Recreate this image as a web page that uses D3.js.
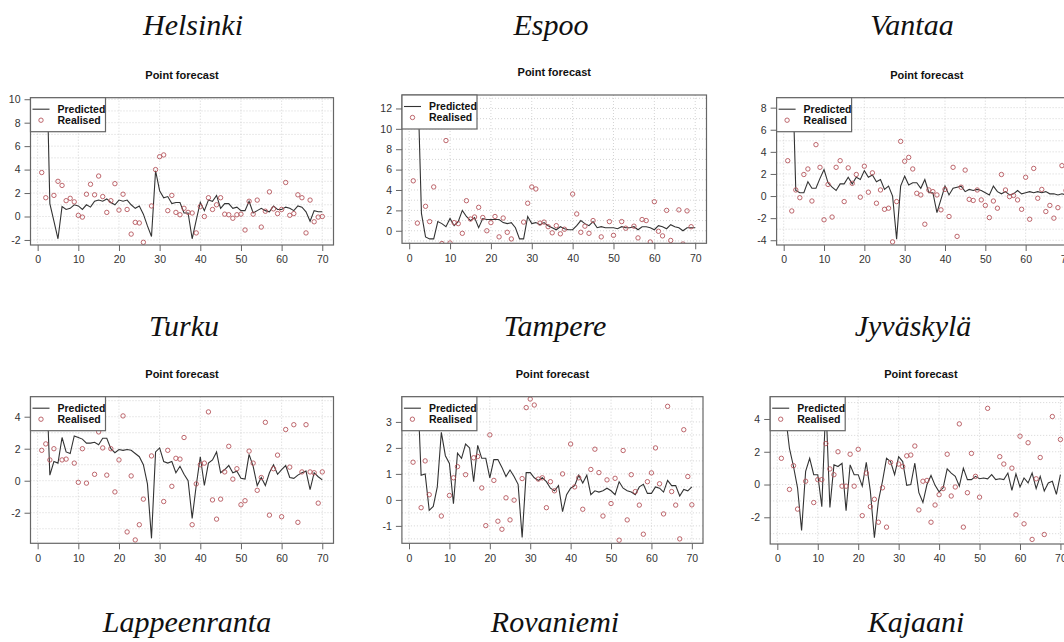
<!DOCTYPE html>
<html><head><meta charset="utf-8">
<script src="https://cdn.jsdelivr.net/npm/d3@7"></script>
<style>
html,body{margin:0;padding:0;background:#fff;}
svg{display:block;}
</style></head>
<body>
<svg id="chart" width="1064" height="642"></svg>
<script>
// ---------------- data ----------------
const cityNames = ["Helsinki","Espoo","Vantaa","Turku","Tampere","Jyväskylä","Lappeenranta","Rovaniemi","Kajaani"];
const panelTitle = "Point forecast";
const legendLabels = ["Predicted","Realised"];
const xTicks = [0,10,20,30,40,50,60,70];

const helsinkiPred = [12,16.5,1.1,-0.4,-1.9,0.85,0.6,0.7,1.0,0.9, 0.6,1.0,0.8,1.3,1.4,1.3,1.5,1.2,1.0,1.4, 1.3,1.4,1.0,0.7,0.9,0.2,-0.8,-1.7,3.9,2.2, 1.6,1.7,1.1,1.2,1.2,0.3,0.3,-1.9,-0.3,1.2, 0.5,1.4,1.3,1.8,0.7,1.1,1.1,0.7,0.8,0.5, 0.5,1.3,0.3,0.5,0.7,0.5,0.4,0.9,0.6,0.6, 0.8,0.7,0.5,0.9,0.8,0.4,-0.4,0.5,0.4,0.4];
const helsinkiReal = [3.75,1.6,null,1.8,3.0,2.65,1.35,1.55,1.25,0.1, -0.05,1.9,2.75,1.85,3.45,1.7,0.35,1.35,2.8,0.55, 1.9,0.6,-1.5,-0.5,-0.55,-2.2,null,0.9,4.0,5.1, 5.25,0.5,1.8,0.35,0.15,0.7,0.35,0.3,-1.4,0.85, 0.0,1.6,0.6,1.0,1.6,0.2,0.15,-0.15,0.15,0.2, -1.15,1.3,0.2,1.4,-0.9,0.45,2.1,0.65,0.25,0.6, 2.9,0.1,0.25,1.85,1.6,-1.4,1.4,-0.45,-0.05,0.0];
const helsinkiYTicks = [-2,0,2,4,6,8,10];

const espooPred = [14,16,1.7,-0.6,-0.8,-0.8,0.9,0.7,0.4,1.2, 0.5,0.9,2.0,1.4,1.0,1.3,0.3,1.2,1.1,1.1, 1.1,1.1,0.8,0.7,0.8,0.3,-0.8,-0.8,1.4,0.7, 0.8,0.6,0.8,0.5,0.3,0.1,0.4,0.2,0.1,0.1, 0.5,1.0,0.7,0.5,0.9,0.3,0.4,0.3,0.3,0.3, 0.2,0.4,0.3,0.3,0.4,0.1,0.4,0.4,0.3,0.1, 0.5,0.4,0.2,0.6,0.4,0.3,0.0,0.3,0.3,0.3];
const espooReal = [4.9,0.75,null,2.4,0.9,4.3,null,-1.25,8.85,-1.2, 0.8,0.7,-0.25,2.95,1.15,1.35,2.3,1.3,0.0,0.8, 1.4,-0.6,1.25,-0.15,-0.8,null,null,0.85,2.7,4.3, 4.1,0.75,0.85,0.4,-0.2,0.5,-0.3,0.15,null,3.6, 1.65,-0.15,0.45,-0.25,1.0,null,-0.6,null,0.9,-0.45, null,0.9,0.25,null,0.45,-0.7,1.1,1.0,-1.1,2.85, -0.05,-0.5,2.0,-0.95,null,2.05,-1.3,1.95,0.4,null];
const espooYTicks = [0,2,4,6,8,10,12];

const vantaaPred = [10,13.5,0.5,0.3,0.3,1.3,0.7,0.7,1.6,2.4, 1.2,0.8,0.5,1.1,1.1,1.7,1.1,1.7,1.5,2.3, 1.7,1.9,1.3,1.5,0.6,0.9,0.0,-3.9,0.9,1.8, 1.0,1.2,1.2,0.7,1.5,0.3,0.3,-1.5,-0.3,0.9, 0.1,0.7,0.8,0.9,0.4,0.6,0.5,0.6,0.5,0.3, 0.1,0.9,0.4,0.2,0.4,0.1,0.2,0.5,0.2,0.3, 0.4,0.3,0.4,0.3,0.4,0.2,0.2,0.1,0.2,0.1];
const vantaaReal = [3.2,-1.35,0.55,-0.15,1.95,2.45,-0.45,4.65,2.6,-2.15, 1.05,-1.9,2.6,3.2,-0.5,2.55,1.15,1.95,-0.1,2.7, 0.35,2.1,-0.65,0.55,-1.2,-1.1,-4.15,-0.5,4.95,3.15, 3.5,2.45,0.25,0.1,-2.55,0.55,0.4,0.1,-1.25,0.6, -1.85,2.6,-3.65,0.8,2.35,-0.3,-0.4,0.55,-0.35,-0.85, -1.95,-0.45,-1.1,1.95,0.55,-0.05,0.05,-0.35,-1.2,1.7, -2.1,2.5,-0.2,0.6,-1.4,-0.85,-2.0,-1.05,2.75,0.5];
const vantaaYTicks = [-4,-2,0,2,4,6,8];

const turkuPred = [6,7.4,0.35,1.2,1.1,2.7,1.8,1.7,2.8,2.7, 2.6,2.35,2.35,2.4,2.25,2.65,2.65,2.0,1.75,1.95, 1.9,1.95,1.9,1.7,1.5,1.0,-0.2,-3.6,1.8,2.05, 1.2,1.1,1.2,0.5,0.9,0.4,0.0,-2.35,-0.3,1.5, -0.3,1.1,1.3,1.8,0.5,0.7,0.95,0.5,0.6,0.15, 0.1,1.65,0.9,-0.3,0.2,-0.3,0.5,1.0,0.4,0.7, 0.95,0.2,0.15,0.35,0.5,0.6,-0.55,0.5,0.25,0.05];
const turkuReal = [1.9,2.3,1.3,2.0,null,1.3,1.35,null,1.1,-0.1, 2.0,-0.15,null,0.4,3.05,2.05,0.35,2.0,-0.7,1.3, 4.05,-3.2,0.3,-3.7,-2.75,-1.15,null,1.55,null,null, -1.3,1.9,-0.35,1.4,1.35,2.7,null,-2.75,-0.2,1.0, 1.1,4.3,-1.2,-2.4,-1.15,0.55,2.15,0.1,0.75,-1.5, -1.25,1.85,1.1,-0.6,0.2,3.65,-2.15,0.75,1.6,-2.25, 3.2,0.85,3.5,-2.6,0.55,3.5,0.55,0.5,-1.4,0.55];
const turkuYTicks = [-2,0,2,4];

const tamperePred = [4,4.8,0.95,1.0,-0.4,-0.25,0.5,2.6,1.7,1.4, -0.15,1.8,1.6,2.15,2.0,0.7,2.1,1.6,1.6,0.85, 1.55,1.55,1.25,0.9,1.15,0.9,0.6,-1.45,1.05,1.05, 0.85,0.75,0.85,0.7,0.45,0.35,0.55,-0.45,0.2,0.45, 0.55,0.95,0.65,0.95,0.2,0.35,0.3,0.35,0.45,0.35, 0.2,0.7,0.45,0.35,0.3,0.2,0.5,0.6,0.25,0.25, 0.5,0.45,0.3,0.75,0.55,0.55,0.15,0.4,0.35,0.5];
const tampereReal = [1.45,null,-0.3,1.5,0.2,null,null,-0.62,null,0.17, 0.85,1.28,null,0.97,null,1.62,1.67,0.46,-0.99,2.5, 0.75,-0.82,-1.13,0.08,-0.77,-0.01,null,0.82,3.55,3.88, 3.65,0.8,0.85,-0.3,0.7,0.35,null,1.0,null,2.15, 0.5,0.85,-0.36,null,1.17,1.95,1.05,-0.62,0.77,-0.14, 0.83,-1.55,1.9,-0.77,0.97,0.32,-0.2,-1.32,0.7,1.04, 2.0,0.62,-0.54,3.6,0.32,-0.2,-1.5,2.7,0.9,-0.19];
const tampereYTicks = [-1,0,1,2,3];

const jyvaskylaPred = [4.5,4.3,2.2,1.1,-0.2,-2.8,0.8,1.6,0.6,0.6, -1.35,5.0,-1.4,1.2,1.1,1.3,-1.6,1.2,0.6,0.6, -0.1,1.35,-0.4,-3.25,-1.0,0.2,1.6,1.4,0.6,1.7, 1.4,-0.05,0.0,1.3,-0.5,-1.1,0.0,0.55,-0.05,-0.45, -0.2,0.95,0.7,0.5,-0.1,1.0,0.3,0.3,0.5,0.35, 0.4,0.35,0.6,0.3,0.35,0.3,0.7,-0.35,0.65,-0.15, 0.4,0.1,0.7,-0.25,0.5,-0.4,0.1,0.2,-0.6,0.6];
const jyvaskylaReal = [1.6,null,-0.3,1.15,-1.5,null,0.2,null,-1.1,0.3, 0.3,2.5,0.95,0.6,2.0,-0.1,-0.1,1.85,-0.1,2.15, -1.9,0.7,-1.35,-0.9,-2.3,-0.2,-2.6,1.35,null,1.25, 1.1,1.75,1.8,2.35,-1.55,0.2,0.25,-2.3,-1.25,-0.62, -0.25,1.85,-0.7,-0.15,3.7,-2.6,-0.5,1.9,0.5,-0.77, null,4.65,null,null,1.7,1.25,null,1.0,-1.85,2.95, -2.4,2.55,-3.35,0.35,1.65,-3.05,null,4.15,null,2.75];
const jyvaskylaYTicks = [-2,0,2,4];

// ---------------- layout (positions only) ----------------
const panels = [
  {city:0, pred:helsinkiPred, real:helsinkiReal, yTicks:helsinkiYTicks, left:30.5, right:333.5, top:97.7, bottom:245, ydom:[-2.43,10.13]},
  {city:1, pred:espooPred, real:espooReal, yTicks:espooYTicks, left:402, right:706.5, top:95, bottom:243.3, ydom:[-1.23,13.32]},
  {city:2, pred:vantaaPred, real:vantaaReal, yTicks:vantaaYTicks, left:776.6, right:1077.1, top:97.7, bottom:245, ydom:[-4.43,8.9]},
  {city:3, pred:turkuPred, real:turkuReal, yTicks:turkuYTicks, left:30.5, right:333.5, top:396.7, bottom:543.3, ydom:[-3.91,5.25]},
  {city:4, pred:tamperePred, real:tampereReal, yTicks:tampereYTicks, left:401.9, right:703, top:396.7, bottom:543.3, ydom:[-1.67,3.97]},
  {city:5, pred:jyvaskylaPred, real:jyvaskylaReal, yTicks:jyvaskylaYTicks, left:770.2, right:1071.6, top:396.7, bottom:544, ydom:[-3.63,5.36]}
];
const cityPos = [
  {x:193,y:35},{x:551,y:35},{x:912,y:35},
  {x:184,y:336},{x:555,y:336},{x:913,y:336},
  {x:187,y:632},{x:555,y:632},{x:916,y:632}
];

const svg = d3.select("#chart");
const xDom = [-1.76, 72.76];
const greyAxis = "#666";
const lineCol = "#333";
const ptCol = "#b5565c";
const gridCol = "#cfcfcf";

// City titles
svg.selectAll("text.city").data(cityPos).enter().append("text")
  .attr("class","city")
  .attr("x", d=>d.x).attr("y", d=>d.y)
  .attr("text-anchor","middle")
  .style("font-family","'Liberation Serif','DejaVu Serif',serif")
  .style("font-style","italic")
  .style("font-size","30px")
  .attr("fill","#111")
  .text((d,i)=>cityNames[i]);

panels.forEach((p,pi)=>{
  const x = d3.scaleLinear().domain(xDom).range([p.left,p.right]);
  const y = d3.scaleLinear().domain(p.ydom).range([p.bottom,p.top]);
  const g = svg.append("g");
  const clipId = "clip"+pi;
  svg.append("defs").append("clipPath").attr("id",clipId)
    .append("rect").attr("x",p.left).attr("y",p.top)
    .attr("width",p.right-p.left).attr("height",p.bottom-p.top);

  // grid
  const step = p.yTicks[1]-p.yTicks[0];
  const hGrid = d3.range(Math.ceil(p.ydom[0]/(step/2))*(step/2), p.ydom[1], step/2);
  const grid = g.append("g").attr("clip-path",`url(#${clipId})`);
  grid.selectAll("line.h").data(hGrid).enter().append("line")
    .attr("x1",p.left).attr("x2",p.right)
    .attr("y1",d=>y(d)).attr("y2",d=>y(d))
    .attr("stroke",gridCol).attr("stroke-width",0.9).attr("stroke-dasharray","1,2");
  grid.selectAll("line.v").data(xTicks).enter().append("line")
    .attr("y1",p.top).attr("y2",p.bottom)
    .attr("x1",d=>x(d)).attr("x2",d=>x(d))
    .attr("stroke",gridCol).attr("stroke-width",0.9).attr("stroke-dasharray","1,2");

  // data
  const plot = g.append("g").attr("clip-path",`url(#${clipId})`);
  const line = d3.line().x((d,i)=>x(i+1)).y(d=>y(d));
  plot.append("path").datum(p.pred).attr("d",line)
    .attr("fill","none").attr("stroke",lineCol).attr("stroke-width",1.1);
  plot.selectAll("circle").data(p.real.map((v,i)=>({t:i+1,v})).filter(d=>d.v!==null))
    .enter().append("circle")
    .attr("cx",d=>x(d.t)).attr("cy",d=>y(d.v)).attr("r",2.2)
    .attr("fill","none").attr("stroke",ptCol).attr("stroke-width",0.9);

  // box
  g.append("rect").attr("x",p.left).attr("y",p.top)
    .attr("width",p.right-p.left).attr("height",p.bottom-p.top)
    .attr("fill","none").attr("stroke",greyAxis).attr("stroke-width",1.2);

  // axes
  const xa = g.append("g").attr("transform",`translate(0,${p.bottom})`)
    .call(d3.axisBottom(x).tickValues(xTicks).tickSize(6).tickSizeOuter(0).tickPadding(5));
  const ya = g.append("g").attr("transform",`translate(${p.left},0)`)
    .call(d3.axisLeft(y).tickValues(p.yTicks).tickSize(6).tickSizeOuter(0).tickPadding(4).tickFormat(d3.format("d")));
  [xa,ya].forEach(a=>{
    a.select(".domain").remove();
    a.selectAll("line").attr("stroke",greyAxis);
    a.selectAll("text").attr("fill","#333")
      .style("font-family","'Liberation Sans',Arial,sans-serif").style("font-size","10.5px");
  });
  xa.selectAll("text").text(d=>d);
  ya.selectAll("text").text(d=>d<0?"-"+Math.abs(d):d);
  // axis lines spanning ticks
  g.append("line").attr("x1",x(xTicks[0])).attr("x2",x(xTicks[xTicks.length-1]))
    .attr("y1",p.bottom+6).attr("y2",p.bottom+6).attr("stroke","none");

  // panel title
  g.append("text").attr("x",(p.left+p.right)/2).attr("y",p.top-19)
    .attr("text-anchor","middle")
    .style("font-family","'Liberation Sans',Arial,sans-serif")
    .style("font-weight","bold").style("font-size","11px").attr("fill","#111")
    .text(panelTitle);

  // legend
  const lg = g.append("g").attr("transform",`translate(${p.left},${p.top})`);
  lg.append("rect").attr("x",0).attr("y",0).attr("width",75).attr("height",34)
    .attr("fill","#fff").attr("stroke",greyAxis).attr("stroke-width",1.2);
  lg.append("line").attr("x1",2).attr("x2",19).attr("y1",11.5).attr("y2",11.5)
    .attr("stroke",lineCol).attr("stroke-width",1.1);
  lg.append("circle").attr("cx",10.5).attr("cy",22.5).attr("r",2.2)
    .attr("fill","none").attr("stroke",ptCol).attr("stroke-width",0.9);
  lg.selectAll("text").data(legendLabels).enter().append("text")
    .attr("x",27).attr("y",(d,i)=>11.5+i*11+3.8)
    .style("font-family","'Liberation Sans',Arial,sans-serif")
    .style("font-weight","bold").style("font-size","10.5px").attr("fill","#111")
    .text(d=>d);
});
</script>
</body></html>
